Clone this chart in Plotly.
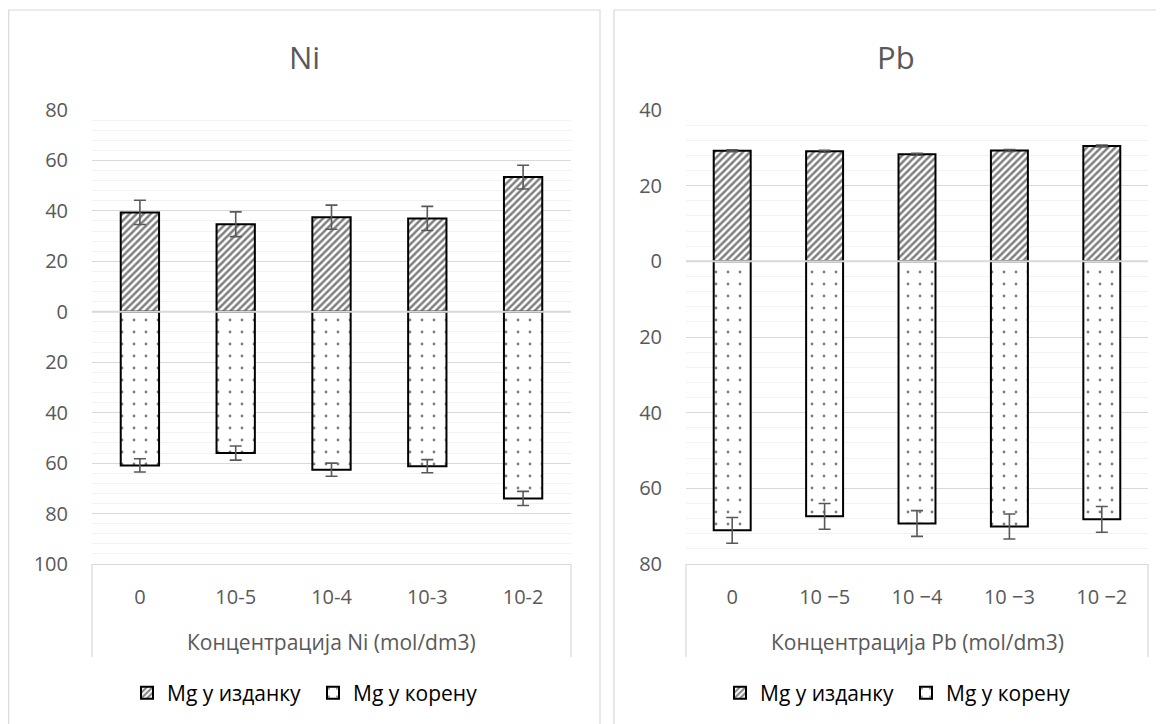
import plotly.graph_objects as go

# ---- data ----
cats_ni = ["0", "10-5", "10-4", "10-3", "10-2"]
cats_pb = ["0", "10 \u22125", "10 \u22124", "10 \u22123", "10 \u22122"]

ni_shoot = [39.4, 34.7, 37.5, 37.0, 53.4]
ni_shoot_err = [4.8, 4.9, 4.8, 4.8, 4.7]
ni_root = [60.9, 56.0, 62.6, 61.2, 74.0]
ni_root_err = [2.6, 2.8, 2.6, 2.6, 2.8]

pb_shoot = [29.2, 29.1, 28.3, 29.3, 30.5]
pb_shoot_err = [0.25, 0.25, 0.25, 0.25, 0.25]
pb_root = [71.1, 67.4, 69.3, 70.1, 68.2]
pb_root_err = [3.4, 3.4, 3.4, 3.3, 3.4]

name_shoot = "Mg у изданку"
name_root = "Mg у корену"
title_ni = "Ni"
title_pb = "Pb"
xtitle_ni = "Концентрација Ni (mol/dm3)"
xtitle_pb = "Концентрација Pb (mol/dm3)"

ni_ticks = [-100, -80, -60, -40, -20, 0, 20, 40, 60, 80]
pb_ticks = [-80, -60, -40, -20, 0, 20, 40]

# ---- style ----
OFF = 8                      # page body margin of the browser
W, H = 1164 - OFF, 724 - OFF
FONT = "Open Sans"
GRAY = "#595959"
MAJOR = "#d9d9d9"
MINOR = "#f2f2f2"

hatch = dict(shape="/", size=5, solidity=0.5, fgcolor="black", bgcolor="white")
dots = dict(shape=".", size=12, solidity=0.045, fgcolor="black", bgcolor="white")
err_style = dict(type="data", color=GRAY, thickness=1.6, width=6, visible=True)

fig = go.Figure()


def add_pair(cats, shoot, shoot_err, root, root_err, xa, ya, lg):
    fig.add_trace(go.Bar(
        x=cats, y=shoot, name=name_shoot, width=0.4,
        marker=dict(color="white", pattern=hatch, line=dict(color="black", width=2)),
        error_y=dict(array=shoot_err, **err_style),
        xaxis=xa, yaxis=ya, legend=lg,
    ))
    fig.add_trace(go.Bar(
        x=cats, y=[-v for v in root], name=name_root, width=0.4,
        marker=dict(color="white", pattern=dots, line=dict(color="black", width=2)),
        error_y=dict(array=root_err, **err_style),
        xaxis=xa, yaxis=ya, legend=lg,
    ))


add_pair(cats_ni, ni_shoot, ni_shoot_err, ni_root, ni_root_err, "x", "y", "legend")
add_pair(cats_pb, pb_shoot, pb_shoot_err, pb_root, pb_root_err, "x2", "y2", "legend2")

# plot areas (page pixels)
L1, R1 = 92, 571
L2, R2 = 686, 1148
TOP, BOT = 110, 564


def px(x):
    return (x - OFF) / W


def py(y):
    return 1 - (y - OFF) / H


def yaxis_cfg(ticks, xa):
    return dict(
        domain=[py(BOT), py(TOP)], anchor=xa,
        range=[ticks[0], ticks[-1]],
        tickvals=ticks, ticktext=[str(abs(t)) for t in ticks],
        showgrid=True, gridcolor=MAJOR, gridwidth=1,
        zeroline=True, zerolinecolor=MAJOR, zerolinewidth=1,
        minor=dict(dtick=4, tick0=0, showgrid=True, gridcolor=MINOR, gridwidth=1),
        showline=False, ticks="", ticklabelstandoff=23,
        tickfont=dict(family=FONT, size=20, color=GRAY),
        automargin=False, fixedrange=True,
    )


def xaxis_cfg(l, r, ya, cats):
    return dict(
        domain=[px(l), px(r)], anchor=ya, type="category",
        categoryorder="array", categoryarray=cats,
        showgrid=False, showline=True, linecolor=MAJOR, linewidth=1,
        ticks="", ticklabelstandoff=15,
        tickfont=dict(family=FONT, size=20, color=GRAY),
        automargin=False, fixedrange=True,
    )


legend_common = dict(
    orientation="h", yanchor="middle", xanchor="center", y=py(693),
    xref="container", yref="container",
    font=dict(family=FONT, size=21, color="black"),
    bgcolor="rgba(0,0,0,0)", itemwidth=30, traceorder="normal",
    entrywidth=141,
    itemclick=False, itemdoubleclick=False,
)

shapes = []
# panel borders
shapes.append(dict(type="rect", xref="paper", yref="paper",
                   x0=px(8.7), x1=px(600), y0=py(740), y1=py(10),
                   line=dict(color=MAJOR, width=1.2), fillcolor="rgba(0,0,0,0)"))
shapes.append(dict(type="rect", xref="paper", yref="paper",
                   x0=px(614), x1=px(1185), y0=py(740), y1=py(10),
                   line=dict(color=MAJOR, width=1.2), fillcolor="rgba(0,0,0,0)"))
# category box verticals
for xv in (L1, R1, L2, R2):
    shapes.append(dict(type="line", xref="paper", yref="paper",
                       x0=px(xv), x1=px(xv), y0=py(BOT), y1=py(657),
                       line=dict(color=MAJOR, width=1.2)))
# horizontal axis line at zero drawn over the bars
for xa, ya in (("x", "y"), ("x2", "y2")):
    shapes.append(dict(type="line", xref=xa + " domain", yref=ya,
                       x0=0, x1=1, y0=0, y1=0, layer="above",
                       line=dict(color=MAJOR, width=2)))

annotations = [
    dict(text=title_ni, x=px(304), y=py(57), xref="paper", yref="paper",
         showarrow=False, xanchor="center", yanchor="middle",
         font=dict(family=FONT, size=31, color=GRAY)),
    dict(text=title_pb, x=px(896), y=py(57), xref="paper", yref="paper",
         showarrow=False, xanchor="center", yanchor="middle",
         font=dict(family=FONT, size=31, color=GRAY)),
    dict(text=xtitle_ni, x=px((L1 + R1) / 2), y=py(642), xref="paper", yref="paper",
         showarrow=False, xanchor="center", yanchor="middle",
         font=dict(family=FONT, size=21, color=GRAY)),
    dict(text=xtitle_pb, x=px((L2 + R2) / 2), y=py(642), xref="paper", yref="paper",
         showarrow=False, xanchor="center", yanchor="middle",
         font=dict(family=FONT, size=21, color=GRAY)),
]

fig.update_layout(
    width=W, height=H, autosize=False,
    margin=dict(l=0, r=0, t=0, b=0, pad=0, autoexpand=False),
    paper_bgcolor="white", plot_bgcolor="white",
    barmode="relative",
    xaxis=xaxis_cfg(L1, R1, "y", cats_ni),
    yaxis=yaxis_cfg(ni_ticks, "x"),
    xaxis2=xaxis_cfg(L2, R2, "y2", cats_pb),
    yaxis2=yaxis_cfg(pb_ticks, "x2"),
    legend=dict(x=px(313), **legend_common),
    legend2=dict(x=px(906), **legend_common),
    shapes=shapes,
    annotations=annotations,
    font=dict(family=FONT, color=GRAY),
    showlegend=True,
)

fig.write_html("out.html")
